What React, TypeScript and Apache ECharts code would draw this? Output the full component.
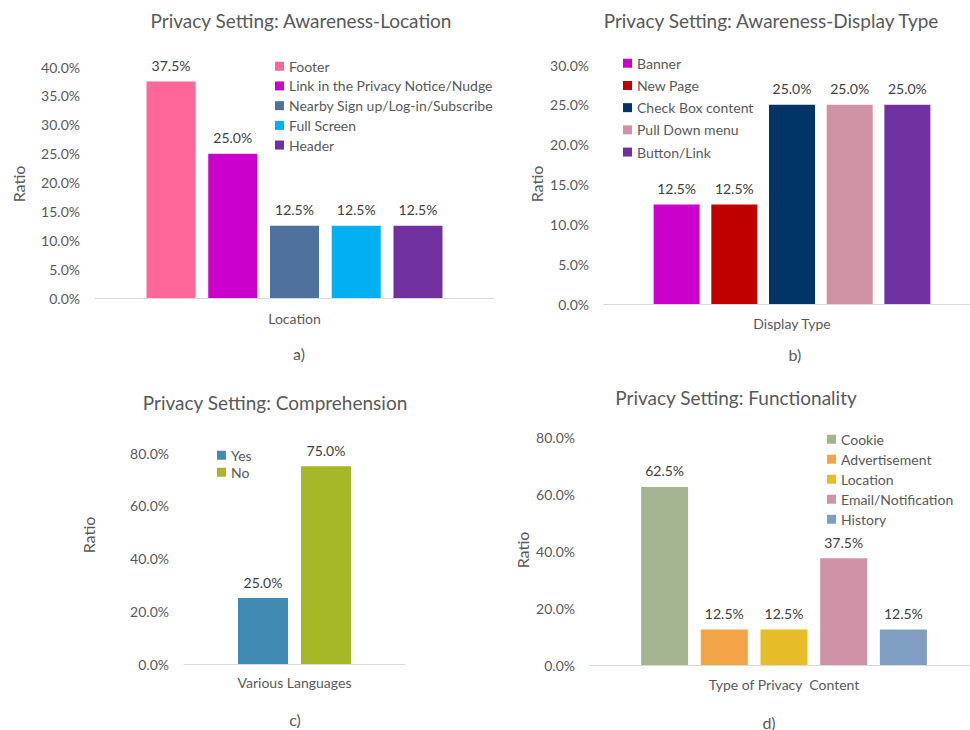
import React, { useEffect, useRef } from "react";
import * as echarts from "echarts";

// ---- data ----
const locNames = ["Footer", "Link in the Privacy Notice/Nudge", "Nearby Sign up/Log-in/Subscribe", "Full Screen", "Header"];
const locValues = [37.5, 25.0, 12.5, 12.5, 12.5];
const locColors = ["#FF6699", "#CC00CC", "#4E719E", "#00B0F0", "#7030A0"];

const dispNames = ["Banner", "New Page", "Check Box content", "Pull Down menu", "Button/Link"];
const dispValues = [12.5, 12.5, 25.0, 25.0, 25.0];
const dispColors = ["#CC00CC", "#C00000", "#003366", "#D092A5", "#7030A0"];

const compNames = ["Yes", "No"];
const compValues = [25.0, 75.0];
const compColors = ["#418AB3", "#A6B727"];

const funcNames = ["Cookie", "Advertisement", "Location", "Email/Notification", "History"];
const funcValues = [62.5, 12.5, 12.5, 37.5, 12.5];
const funcColors = ["#A5B592", "#F3A447", "#E7BC29", "#D092A7", "#7F9FC4"];

const FONT = "Lato";
const GREY = "#595959";

type Panel = {
  title: string;
  titleX: number;
  titleY: number;
  axisName: string;
  caption: string;
  capX: number;
  capY: number;
  ratioX: number;
  ratioY: number;
  names: string[];
  values: number[];
  colors: string[];
  grid: { left: number; top: number; width: number; height: number };
  max: number;
  interval: number;
  barWidth: number;
  barGap: string;
  nameGap: number;
  legend: { left: number; top: number; itemGap: number };
};

const panels: Panel[] = [
  {
    title: "Privacy Setting: Awareness-Location", titleX: 301, titleY: 20,
    axisName: "Location", caption: "a)", capX: 299, capY: 353, ratioX: 18, ratioY: 184,
    names: locNames, values: locValues, colors: locColors,
    grid: { left: 95, top: 67, width: 399, height: 231 }, max: 40, interval: 5,
    barWidth: 49, barGap: "26%", nameGap: 13,
    legend: { left: 275, top: 59, itemGap: 5.2 },
  },
  {
    title: "Privacy Setting: Awareness-Display Type", titleX: 771, titleY: 20,
    axisName: "Display Type", caption: "b)", capX: 795, capY: 354, ratioX: 536, ratioY: 184,
    names: dispNames, values: dispValues, colors: dispColors,
    grid: { left: 604, top: 65, width: 376, height: 239 }, max: 30, interval: 5,
    barWidth: 46, barGap: "25.4%", nameGap: 12,
    legend: { left: 623, top: 56, itemGap: 7.7 },
  },
  {
    title: "Privacy Setting: Comprehension", titleX: 275, titleY: 402,
    axisName: "Various Languages", caption: "c)", capX: 295, capY: 719, ratioX: 88, ratioY: 535,
    names: compNames, values: compValues, colors: compColors,
    grid: { left: 184, top: 453, width: 221, height: 211 }, max: 80, interval: 20,
    barWidth: 50, barGap: "26%", nameGap: 11,
    legend: { left: 217, top: 448, itemGap: 2.5 },
  },
  {
    title: "Privacy Setting: Functionality", titleX: 736, titleY: 397,
    axisName: "Type of Privacy  Content", caption: "d)", capX: 769, capY: 722, ratioX: 522, ratioY: 550,
    names: funcNames, values: funcValues, colors: funcColors,
    grid: { left: 590, top: 437, width: 388, height: 228 }, max: 80, interval: 20,
    barWidth: 47, barGap: "27%", nameGap: 12,
    legend: { left: 827, top: 432, itemGap: 5.5 },
  },
];

export default function App() {
  const ref = useRef<HTMLDivElement>(null);
  useEffect(() => {
    if (!ref.current) return;
    const chart = echarts.init(ref.current, undefined, { renderer: "svg" });
    const grid: any[] = [];
    const xAxis: any[] = [];
    const yAxis: any[] = [];
    const series: any[] = [];
    const legend: any[] = [];
    const graphic: any[] = [];
    panels.forEach((p, i) => {
      grid.push({ ...p.grid, containLabel: false });
      xAxis.push({
        type: "category", gridIndex: i, data: [""],
        axisLine: { lineStyle: { color: "#D9D9D9", width: 1 } },
        axisTick: { show: false }, axisLabel: { show: false },
        name: p.axisName, nameLocation: "middle", nameGap: p.nameGap,
        nameTextStyle: { color: GREY, fontFamily: FONT, fontSize: 14 },
      });
      yAxis.push({
        type: "value", gridIndex: i, min: 0, max: p.max, interval: p.interval,
        axisLine: { show: false }, axisTick: { show: false }, splitLine: { show: false },
        axisLabel: { color: GREY, fontFamily: FONT, fontSize: 14, margin: 15, formatter: (v: number) => v.toFixed(1) + "%" },
      });
      p.names.forEach((n, k) => {
        series.push({
          type: "bar", name: n, xAxisIndex: i, yAxisIndex: i,
          data: [p.values[k]], barWidth: p.barWidth, barGap: p.barGap,
          itemStyle: { color: p.colors[k] },
          label: { show: true, position: "top", distance: 9, color: "#404040", fontFamily: FONT, fontSize: 14, formatter: (d: any) => d.value.toFixed(1) + "%" },
        });
      });
      legend.push({
        data: p.names, orient: "vertical", left: p.legend.left, top: p.legend.top,
        padding: 0, itemGap: p.legend.itemGap, itemWidth: 9, itemHeight: 9, icon: "rect",
        textStyle: { color: GREY, fontFamily: FONT, fontSize: 14, lineHeight: 14.5 },
      });
      graphic.push({
        type: "text", x: p.titleX, y: p.titleY,
        style: { text: p.title, fill: GREY, font: `19px ${FONT}`, textAlign: "center", textVerticalAlign: "middle" },
      });
      graphic.push({
        type: "text", x: p.ratioX, y: p.ratioY, rotation: Math.PI / 2,
        style: { text: "Ratio", fill: GREY, font: `16px ${FONT}`, textAlign: "center", textVerticalAlign: "middle" },
      });
      graphic.push({
        type: "text", x: p.capX, y: p.capY,
        style: { text: p.caption, fill: GREY, font: `16px ${FONT}`, textAlign: "center", textVerticalAlign: "middle" },
      });
    });
    chart.setOption({ animation: false, backgroundColor: "#ffffff", grid, xAxis, yAxis, series, legend, graphic });
    return () => chart.dispose();
  }, []);
  return (
    <div style={{ position: "absolute", left: 0, top: 0, width: 970, height: 730, overflow: "hidden" }}>
      <div ref={ref} style={{ width: 990, height: 730 }} />
    </div>
  );
}
